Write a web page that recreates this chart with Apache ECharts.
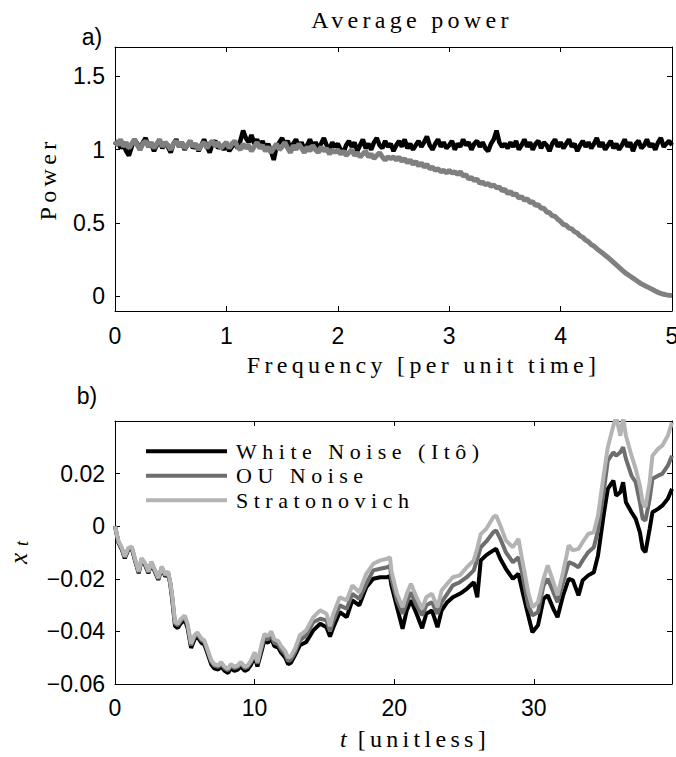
<!DOCTYPE html>
<html><head><meta charset="utf-8">
<script src="https://cdn.jsdelivr.net/npm/echarts@6/dist/echarts.min.js"></script>
<style>
html,body{margin:0;padding:0;background:#fff;}
#chart{width:676px;height:757px;}
#chart text[style*="Serif"][style*="24px"]{letter-spacing:4.3px;}
#chart text[style*="Serif"][style*="22px"]{letter-spacing:5.5px;}
</style></head><body><div id="chart"></div>
<script>
// ---- panel a) : average power vs frequency (sampled every 0.025) ----
const freqStep = 0.025;
const powerWhite = [
 1.03,1.06,1.01,1.04,0.99,0.96,1.02,1.07,1.04,1.00,1.05,1.08,1.02,1.04,0.99,1.03,1.06,1.01,1.05,1.02,
 0.98,1.04,1.07,1.02,1.05,1.00,1.03,1.06,1.01,1.04,0.99,1.03,1.07,1.02,0.98,1.04,1.06,1.01,1.03,1.00,
 1.04,0.99,1.02,1.05,1.01,1.06,1.13,1.08,1.05,1.10,1.04,1.07,1.02,1.06,1.00,1.04,0.99,0.93,1.02,1.05,
 1.08,1.03,1.06,1.01,1.04,1.07,1.02,1.05,1.00,1.03,1.07,1.02,1.05,1.01,1.04,1.08,1.03,1.00,1.05,1.02,
 1.04,1.00,0.98,1.03,1.06,1.02,1.05,0.99,1.03,1.07,1.01,1.04,1.00,1.05,1.08,1.03,1.01,1.06,1.02,1.04,
 0.99,1.03,1.06,1.02,1.07,1.01,1.04,1.00,1.03,1.06,1.02,1.05,1.09,1.03,1.00,1.04,1.07,1.02,1.05,1.01,
 1.03,1.06,1.00,1.04,1.02,1.07,1.03,1.05,1.00,1.04,1.06,1.02,1.05,1.01,0.99,1.04,1.07,1.13,1.05,1.02,
 1.04,1.01,1.05,1.02,1.06,1.00,1.03,1.07,1.02,1.05,1.00,1.04,1.06,1.01,1.05,1.03,0.99,1.04,1.07,1.02,
 1.05,1.01,1.04,1.07,1.02,1.04,0.99,1.03,1.06,1.02,1.05,1.01,1.04,1.08,1.02,1.05,1.00,1.03,1.06,1.01,
 1.04,1.00,1.03,1.07,1.02,1.05,0.99,1.04,1.06,1.01,1.03,1.07,1.02,1.04,1.00,1.05,1.08,1.02,1.04,1.06,
 1.03];
const powerOU = [
 1.06,1.03,1.07,1.02,1.05,1.01,1.04,1.07,1.03,1.00,1.04,1.06,1.02,1.05,1.01,1.04,1.07,1.02,1.05,1.03,
 1.00,1.04,1.06,1.02,1.05,1.01,1.03,1.06,1.02,1.04,1.00,1.03,1.05,1.01,1.04,1.06,1.02,1.05,1.01,1.03,
 1.05,1.01,1.04,1.06,1.02,1.00,1.04,1.01,1.03,0.99,1.02,1.05,1.01,1.03,0.99,1.02,0.98,1.01,1.04,1.00,
 1.02,1.05,1.01,0.98,1.03,1.00,1.04,1.01,0.98,1.02,0.99,1.03,1.00,0.98,1.02,0.99,1.01,0.97,1.00,0.98,
 1.00,0.97,0.99,0.96,0.98,1.00,0.96,0.98,0.95,0.97,0.99,0.95,0.97,0.94,0.96,0.98,0.95,0.93,0.95,0.94,
 0.95,0.93,0.95,0.92,0.94,0.91,0.93,0.90,0.92,0.89,0.91,0.88,0.90,0.87,0.88,0.86,0.87,0.85,0.86,0.84,
 0.86,0.84,0.85,0.83,0.85,0.82,0.83,0.80,0.81,0.79,0.80,0.77,0.78,0.76,0.77,0.75,0.76,0.74,0.745,0.72,
 0.73,0.70,0.715,0.69,0.70,0.67,0.68,0.655,0.665,0.64,0.645,0.62,0.625,0.60,0.60,0.575,0.57,0.55,0.545,0.525,
 0.51,0.49,0.485,0.465,0.46,0.44,0.432,0.412,0.402,0.383,0.372,0.353,0.342,0.325,0.31,0.295,0.28,0.265,0.248,0.231,
 0.214,0.197,0.18,0.163,0.15,0.137,0.124,0.111,0.098,0.085,0.075,0.066,0.056,0.046,0.036,0.027,0.02,0.014,0.01,0.007,
 0.005];
const freqTicks = [0,1,2,3,4,5];
const powerTicks = [0,0.5,1,1.5];

// ---- panel b) : sample paths ----
const tVals = [0,0.25,0.5,0.7,0.95,1.2,1.45,1.7,1.9,2.15,2.4,2.6,2.85,3.1,3.35,3.6,3.8,3.95,
 4.1,4.3,4.5,4.7,5.0,5.2,5.45,5.7,5.9,6.2,6.4,6.6,6.9,7.1,7.4,7.6,7.85,8.1,8.3,8.55,8.8,9.0,9.3,9.5,9.75,10.0,10.2,
 10.5,10.7,10.95,11.2,11.4,11.7,11.9,12.2,12.4,12.6,12.9,
 13.24,13.7,14.2,14.7,15.15,15.4,15.6,16.1,16.6,17.0,17.5,18.0,18.5,19.0,19.5,19.7,19.8,
 20.2,20.6,20.9,21.2,21.6,22.0,22.3,22.7,23.1,23.4,23.8,24.2,24.7,25.2,25.7,25.95,26.2,26.6,
 27.1,27.3,27.6,28.0,28.5,28.9,29.2,29.6,29.9,30.3,30.7,31.0,31.4,31.7,32.1,32.5,32.8,33.2,33.5,33.9,
 34.3,34.6,35.0,35.3,35.7,35.9,36.2,36.4,36.6,37.0,37.3,37.6,37.8,38.0,38.3,38.5,38.9,39.2,39.6,39.9];
const xIto = [0.0,-0.0063,-0.009,-0.0122,-0.009,-0.0084,-0.0134,-0.0179,-0.0128,-0.0147,-0.0179,-0.0141,-0.0172,-0.0204,-0.016,-0.0191,-0.0179,-0.0217,
 -0.028,-0.038,-0.0387,-0.037,-0.0356,-0.0387,-0.0463,-0.043,-0.042,-0.0444,-0.045,-0.048,-0.0526,-0.054,-0.0545,-0.0533,-0.055,-0.0558,-0.054,-0.055,-0.0545,-0.0533,-0.055,-0.0545,-0.0526,-0.0495,-0.0533,
 -0.0475,-0.0435,-0.0443,-0.0425,-0.0455,-0.0462,-0.0481,-0.05,-0.0525,-0.0519,-0.049,
 -0.0453,-0.044,-0.0396,-0.0371,-0.0384,-0.042,-0.039,-0.0327,-0.0346,-0.0282,-0.0301,-0.0232,-0.020,-0.0194,-0.0194,-0.019,-0.0225,
 -0.0308,-0.039,-0.032,-0.0282,-0.0333,-0.0388,-0.0333,-0.032,-0.0384,-0.032,-0.0289,-0.027,-0.0257,-0.0238,-0.0213,-0.027,-0.013,-0.011,
 -0.0092,-0.0086,-0.0124,-0.0162,-0.020,-0.0181,-0.0251,-0.0339,-0.0403,-0.0377,-0.0276,-0.0263,-0.0314,-0.0346,-0.0263,-0.020,-0.0206,-0.0263,-0.0206,-0.0187,
 -0.0175,-0.0111,0.0041,0.0142,0.0173,0.0116,0.0129,0.0167,0.0091,0.0053,0.0028,-0.0023,-0.0086,-0.0099,-0.001,0.0053,0.0066,0.0078,0.0104,0.0142];
const xOU = [0.0,-0.006,-0.0086,-0.0118,-0.0086,-0.008,-0.013,-0.0175,-0.0124,-0.0143,-0.0175,-0.0137,-0.0168,-0.020,-0.0156,-0.0187,-0.0175,-0.0213,
 -0.027,-0.037,-0.0377,-0.036,-0.0346,-0.0377,-0.0453,-0.042,-0.041,-0.0434,-0.044,-0.047,-0.0516,-0.053,-0.0535,-0.0523,-0.054,-0.0548,-0.053,-0.054,-0.0535,-0.0523,-0.054,-0.0535,-0.0516,-0.0485,-0.0523,
 -0.0463,-0.0423,-0.0431,-0.0413,-0.0443,-0.045,-0.0469,-0.0488,-0.0513,-0.0507,-0.0478,
 -0.0434,-0.0415,-0.0365,-0.0352,-0.0358,-0.040,-0.0365,-0.0301,-0.0314,-0.0257,-0.0276,-0.0219,-0.0168,-0.0162,-0.0156,-0.015,-0.020,
 -0.0282,-0.0333,-0.0289,-0.0251,-0.0301,-0.0339,-0.0301,-0.0289,-0.0333,-0.0289,-0.0257,-0.0225,-0.0213,-0.0194,-0.0168,-0.0125,-0.008,-0.0058,
 -0.0023,-0.0016,-0.0048,-0.0099,-0.0137,-0.0118,-0.0187,-0.0301,-0.0339,-0.0327,-0.0225,-0.020,-0.0251,-0.0289,-0.0213,-0.0137,-0.0143,-0.0156,-0.013,-0.0099,
 -0.008,-0.0016,0.0129,0.0249,0.0281,0.0268,0.0281,0.030,0.0256,0.0192,0.0167,0.0091,0.0028,0.0022,0.0104,0.018,0.0192,0.0199,0.023,0.0268];
const xStrat = [0.0,-0.0057,-0.0083,-0.0115,-0.0083,-0.0077,-0.0127,-0.0172,-0.0121,-0.014,-0.0172,-0.0134,-0.0165,-0.0197,-0.0153,-0.0184,-0.0172,-0.021,
 -0.0264,-0.0364,-0.0371,-0.0354,-0.034,-0.0371,-0.0447,-0.0414,-0.0404,-0.0428,-0.0434,-0.0464,-0.051,-0.0524,-0.0529,-0.0517,-0.0534,-0.0542,-0.0524,-0.0534,-0.0529,-0.0517,-0.0534,-0.0529,-0.051,-0.0479,-0.0517,
 -0.045,-0.041,-0.0418,-0.040,-0.043,-0.0437,-0.0456,-0.0475,-0.050,-0.0494,-0.0465,
 -0.0415,-0.0396,-0.0346,-0.032,-0.0333,-0.038,-0.0339,-0.027,-0.0282,-0.0225,-0.0251,-0.0181,-0.0143,-0.013,-0.0124,-0.0118,-0.017,
 -0.0257,-0.0308,-0.0257,-0.0219,-0.027,-0.0314,-0.027,-0.0257,-0.0308,-0.0244,-0.0219,-0.0194,-0.0187,-0.0156,-0.013,-0.0085,-0.003,-0.001,
 0.0034,0.0041,0.0003,-0.0054,-0.008,-0.0048,-0.0137,-0.0251,-0.0308,-0.0289,-0.020,-0.0149,-0.0213,-0.0263,-0.0175,-0.0073,-0.0092,-0.0086,-0.0061,-0.0029,
 -0.0023,0.0041,0.0192,0.030,0.0382,0.0414,0.0344,0.0414,0.0344,0.0268,0.0218,0.0154,0.0091,0.0072,0.0167,0.0268,0.0294,0.0306,0.0344,0.0395];
const tTicks = [0,10,20,30];
const xTicks = [-0.06,-0.04,-0.02,0,0.02];
const seriesNames = ['White Noise (Itô)','OU Noise','Stratonovich'];
const seriesColors = ['#000000','#6e6e6e','#b4b4b4'];

const SANS = "'Liberation Sans', Arial, sans-serif";
const SERIF = "'Liberation Serif', 'Times New Roman', serif";

const freq = powerWhite.map((_, i) => +(i * freqStep).toFixed(3));
const pairs = (xs, ys) => xs.map((x, i) => [x, ys[i]]);

function boxAxis(extra) {
  return Object.assign({
    type: 'value',
    axisLine: { show: true, onZero: false, lineStyle: { color: '#000', width: 1 } },
    splitLine: { show: false },
  }, extra);
}
const tickLabel = { fontSize: 23, fontFamily: SANS, color: '#000' };
const fmtSigned = v => v === 0 ? '0' : (v < 0 ? '\u2212' : '') + Math.abs(v).toFixed(2);

const chart = echarts.init(document.getElementById('chart'), null, { renderer: 'svg' });
chart.setOption({
  animation: false,
  backgroundColor: '#fff',
  grid: [
    { left: 115, right: 4, top: 47, height: 264, containLabel: false, outerBoundsMode: 'none' },
    { left: 115, right: 4, top: 421, height: 263, containLabel: false, outerBoundsMode: 'none' }
  ],
  graphic: [
    { type: 'text', x: 412, y: 20, style: { text: 'Average power', fontSize: 24, fontFamily: SERIF, fill: '#000', align: 'center', verticalAlign: 'middle' } },
    { type: 'text', x: 92, y: 37, style: { text: 'a)', fontSize: 23, fontFamily: SANS, fill: '#000', align: 'center', verticalAlign: 'middle' } },
    { type: 'text', x: 87, y: 396, style: { text: 'b)', fontSize: 23, fontFamily: SANS, fill: '#000', align: 'center', verticalAlign: 'middle' } }
  ],
  legend: {
    data: seriesNames.map((n, i) => ({ name: n, icon: 'rect', itemStyle: { color: seriesColors[i] } })),
    orient: 'vertical', left: 146, top: 439, padding: 0,
    itemWidth: 81, itemHeight: 4, itemGap: 0,
    textStyle: { fontSize: 22, fontFamily: SERIF, color: '#000', lineHeight: 24.5, padding: [0, 0, 0, 4] },
    selectedMode: false
  },
  xAxis: [
    boxAxis({ gridIndex: 0, position: 'bottom', min: 0, max: 5,
      axisTick: { show: true, inside: true, length: 5, customValues: freqTicks, lineStyle: { color: '#000' } },
      axisLabel: Object.assign({ customValues: freqTicks, margin: 13 }, tickLabel),
      name: 'Frequency [per unit time]', nameLocation: 'middle', nameGap: 42,
      nameTextStyle: { fontFamily: SERIF, fontSize: 24, color: '#000', padding: [0, 0, 0, 60] } }),
    boxAxis({ gridIndex: 0, position: 'top', min: 0, max: 5,
      axisTick: { show: true, inside: true, length: 5, customValues: freqTicks, lineStyle: { color: '#000' } },
      axisLabel: { show: false } }),
    boxAxis({ gridIndex: 1, position: 'bottom', min: 0, max: 39.9,
      axisTick: { show: true, inside: true, length: 5, customValues: tTicks, lineStyle: { color: '#000' } },
      axisLabel: Object.assign({ customValues: tTicks, margin: 12 }, tickLabel),
      name: '{i|t}{r|[unitless]}', nameLocation: 'middle', nameGap: 43,
      nameTextStyle: { fontFamily: SERIF, fontSize: 24, color: '#000',
        rich: { i: { fontFamily: SERIF, fontSize: 24, fontStyle: 'italic', color: '#000', align: 'left' },
                r: { fontFamily: SERIF, fontSize: 24, color: '#000', align: 'left', padding: [0, 0, 0, 11] } } } }),
    boxAxis({ gridIndex: 1, position: 'top', min: 0, max: 39.9,
      axisTick: { show: true, inside: true, length: 5, customValues: tTicks, lineStyle: { color: '#000' } },
      axisLabel: { show: false } })
  ],
  yAxis: [
    boxAxis({ gridIndex: 0, position: 'left', min: -0.1, max: 1.7,
      axisTick: { show: true, inside: true, length: 5, customValues: powerTicks, lineStyle: { color: '#000' } },
      axisLabel: Object.assign({ customValues: powerTicks, margin: 10, formatter: v => String(v) }, tickLabel),
      name: 'Power', nameLocation: 'middle', nameGap: 55, nameRotate: 90,
      nameTextStyle: { fontFamily: SERIF, fontSize: 24, color: '#000' } }),
    boxAxis({ gridIndex: 0, position: 'right', min: -0.1, max: 1.7,
      axisTick: { show: true, inside: true, length: 5, customValues: powerTicks, lineStyle: { color: '#000' } },
      axisLabel: { show: false } }),
    boxAxis({ gridIndex: 1, position: 'left', min: -0.06, max: 0.04,
      axisTick: { show: true, inside: true, length: 5, customValues: xTicks, lineStyle: { color: '#000' } },
      axisLabel: Object.assign({ customValues: xTicks, margin: 10, formatter: fmtSigned }, tickLabel),
      name: '{x|x}{s|t}', nameLocation: 'middle', nameGap: 84, nameRotate: 90,
      nameTextStyle: { color: '#000',
        rich: { x: { fontFamily: SERIF, fontSize: 25, fontStyle: 'italic', color: '#000', align: 'left' },
                s: { fontFamily: SERIF, fontSize: 18, fontStyle: 'italic', color: '#000', align: 'left', padding: [6, 0, 0, 7] } } } }),
    boxAxis({ gridIndex: 1, position: 'right', min: -0.06, max: 0.04,
      axisTick: { show: true, inside: true, length: 5, customValues: xTicks, lineStyle: { color: '#000' } },
      axisLabel: { show: false } })
  ],
  series: [
    { type: 'line', name: 'white-power', xAxisIndex: 0, yAxisIndex: 0, data: pairs(freq, powerWhite),
      showSymbol: false, symbol: 'none', lineStyle: { color: '#000', width: 4.5 }, emphasis: { disabled: true }, z: 2 },
    { type: 'line', name: 'ou-power', xAxisIndex: 0, yAxisIndex: 0, data: pairs(freq, powerOU),
      showSymbol: false, symbol: 'none', lineStyle: { color: '#808080', width: 5 }, emphasis: { disabled: true }, z: 3 },
    { type: 'line', name: seriesNames[0], xAxisIndex: 2, yAxisIndex: 2, data: pairs(tVals, xIto),
      showSymbol: false, symbol: 'none', itemStyle: { color: seriesColors[0] }, lineStyle: { color: seriesColors[0], width: 4 }, emphasis: { disabled: true }, z: 2 },
    { type: 'line', name: seriesNames[1], xAxisIndex: 2, yAxisIndex: 2, data: pairs(tVals, xOU),
      showSymbol: false, symbol: 'none', itemStyle: { color: seriesColors[1] }, lineStyle: { color: seriesColors[1], width: 4 }, emphasis: { disabled: true }, z: 3 },
    { type: 'line', name: seriesNames[2], xAxisIndex: 2, yAxisIndex: 2, data: pairs(tVals, xStrat),
      showSymbol: false, symbol: 'none', itemStyle: { color: seriesColors[2] }, lineStyle: { color: seriesColors[2], width: 4 }, emphasis: { disabled: true }, z: 4 }
  ]
});
</script></body></html>
